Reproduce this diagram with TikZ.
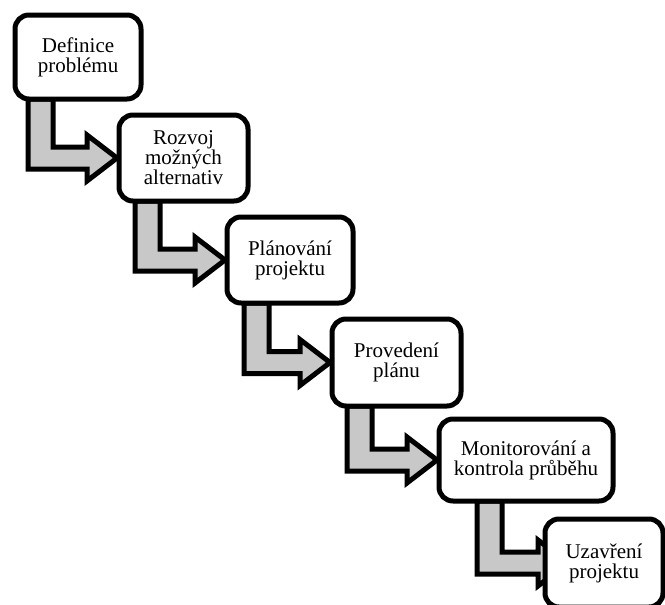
\documentclass[tikz,border=0pt]{standalone}
\usepackage{fontspec}
\setmainfont{Liberation Serif}
\usetikzlibrary{calc,backgrounds}

\definecolor{shaftgray}{RGB}{200,200,200}

% L-shaped block arrow: from, to, shaft offset, tip overshoot
\newcommand{\elbow}[4]{%
  \draw[elbow-arrow] let \p1 = (#1.south west), \p2 = (#2.west) in
    (\x1+#3pt,\y1) -- (\x1+#3pt,\y2-11pt) -- (\x2+#4pt-32pt,\y2-11pt)
    -- (\x2+#4pt-32pt,\y2-23pt) -- (\x2+#4pt-2pt,\y2) -- (\x2+#4pt-32pt,\y2+23pt)
    -- (\x2+#4pt-32pt,\y2+11pt) -- (\x1+#3pt+25pt,\y2+11pt) -- (\x1+#3pt+25pt,\y1) -- cycle;
}

\begin{document}
\begin{tikzpicture}[
x=1pt, y=-1pt,
stage-node/.style = {draw=black, line width=5pt, rounded corners=14pt, fill=white,
  align=center, anchor=north west, outer sep=0pt, inner sep=2pt,
  font=\fontsize{21}{20}\selectfont},
elbow-arrow/.style = {draw=black, line width=5pt, fill=shaftgray, line join=miter}
]
\useasboundingbox (0,0) rectangle (665,605);

\node [stage-node, minimum width=126, minimum height=84] (definice) at (15,15) {Definice\\problému};
\node [stage-node, minimum width=129, minimum height=86] (rozvoj) at (119,115) {Rozvoj\\možných\\alternativ};
\node [stage-node, minimum width=126, minimum height=86] (planovani) at (227,217) {Plánování\\projektu};
\node [stage-node, minimum width=129, minimum height=87] (provedeni) at (332,319) {Provedení\\plánu};
\node [stage-node, minimum width=174, minimum height=82] (monitoring) at (439,419) {Monitorování a\\kontrola průběhu};
\node [stage-node, minimum width=118, minimum height=88] (uzavreni) at (545,519) {Uzavření\\projektu};

% arrows
\begin{scope}[on background layer]
\elbow{definice}{rozvoj}{13}{0}
\elbow{rozvoj}{planovani}{16}{0}
\elbow{planovani}{provedeni}{17}{0}
\elbow{provedeni}{monitoring}{15}{0}
\elbow{monitoring}{uzavreni}{38}{25}
\end{scope}

\end{tikzpicture}
\end{document}
